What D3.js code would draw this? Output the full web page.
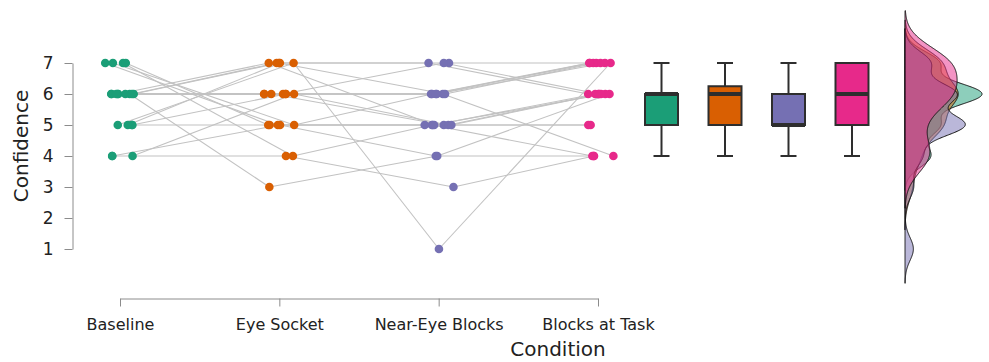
<!DOCTYPE html>
<html>
<head>
<meta charset="utf-8">
<script src="https://cdn.jsdelivr.net/npm/d3@7"></script>
<style>
  html, body { margin: 0; padding: 0; background: #fff; }
  svg { display: block; font-family: "DejaVu Sans", sans-serif; }
</style>
</head>
<body>
<svg id="chart" width="989" height="362"></svg>
<script>
// Conditions and confidence ratings (one entry per participant, same order in every condition)
const conditions = ["Baseline", "Eye Socket", "Near-Eye Blocks", "Blocks at Task"];
const baseline     = [5, 6, 4, 7, 4, 6, 5, 6, 7, 6, 5, 6, 4, 7, 6, 6, 6, 5, 6, 7];
const eyeSocket    = [7, 3, 4, 4, 5, 6, 5, 6, 5, 7, 6, 7, 6, 5, 6, 7, 6, 7, 6, 5];
const nearEye      = [1, 4, 3, 5, 4, 6, 5, 5, 5, 6, 6, 7, 5, 6, 7, 5, 6, 7, 6, 5];
const blocksAtTask = [7, 6, 4, 4, 4, 4, 5, 5, 6, 7, 7, 7, 6, 7, 6, 6, 7, 6, 7, 6];
const yTicks = [1, 2, 3, 4, 5, 6, 7];
const colors = ["#1B9E77", "#D95F02", "#7570B3", "#E7298A"];

const series = [baseline, eyeSocket, nearEye, blocksAtTask];
const nSubj = baseline.length;

const svg = d3.select("#chart");

// Scales
const y = d3.scaleLinear().domain([1, 7]).range([249, 63]);
const x = d3.scalePoint().domain(conditions).range([120, 598]);
const xBox = d3.scalePoint().domain(conditions).range([661.5, 852]);

// Horizontal jitter of the raw points (seeded so the layout is stable)
const jit = d3.randomUniform.source(d3.randomLcg(0.4217))(-15.5, 15.5);
const jitter = series.map(() => d3.range(nSubj).map(() => jit()));
const px = (c, i) => x(conditions[c]) + jitter[c][i];

// Y axis
const yAxis = svg.append("g")
  .attr("transform", "translate(72.5,0)")
  .call(d3.axisLeft(y).tickValues(yTicks).tickFormat(d3.format("d")).tickSize(8).tickSizeOuter(0).tickPadding(11));
yAxis.select(".domain").attr("stroke", "#8c8c8c");
yAxis.selectAll(".tick line").attr("stroke", "#8c8c8c");
yAxis.selectAll(".tick text").attr("font-size", 17).attr("fill", "#222").attr("font-family", "DejaVu Sans, sans-serif");

svg.append("text")
  .attr("transform", "translate(28,146) rotate(-90)")
  .attr("text-anchor", "middle")
  .attr("font-size", 20)
  .attr("fill", "#222")
  .text("Confidence");

// X axis
const xAxis = svg.append("g")
  .attr("transform", "translate(0,298.5)")
  .call(d3.axisBottom(x).tickSize(8).tickSizeOuter(0).tickPadding(12));
xAxis.select(".domain").attr("stroke", "#8c8c8c");
xAxis.selectAll(".tick line").attr("stroke", "#8c8c8c");
xAxis.selectAll(".tick text").attr("font-size", 16).attr("fill", "#222").attr("font-family", "DejaVu Sans, sans-serif");

svg.append("text")
  .attr("x", 558)
  .attr("y", 356)
  .attr("text-anchor", "middle")
  .attr("font-size", 20)
  .attr("fill", "#222")
  .text("Condition");

// Paired lines linking each participant across conditions
const lineG = svg.append("g");
for (let i = 0; i < nSubj; i++) {
  for (let c = 0; c < conditions.length - 1; c++) {
    lineG.append("line")
      .attr("x1", px(c, i)).attr("y1", y(series[c][i]))
      .attr("x2", px(c + 1, i)).attr("y2", y(series[c + 1][i]))
      .attr("stroke", "#c2c2c2")
      .attr("stroke-width", 1.1);
  }
}

// Raw points
const ptG = svg.append("g");
series.forEach((vals, c) => {
  ptG.selectAll(null)
    .data(vals)
    .join("circle")
    .attr("cx", (d, i) => px(c, i))
    .attr("cy", d => y(d))
    .attr("r", 4.3)
    .attr("fill", colors[c]);
});

// Box plots (Tukey whiskers, quantile type 7)
const boxW = 33, capW = 16;
const boxG = svg.append("g");
series.forEach((vals, c) => {
  const s = vals.slice().sort(d3.ascending);
  const q1 = d3.quantileSorted(s, 0.25);
  const med = d3.quantileSorted(s, 0.5);
  const q3 = d3.quantileSorted(s, 0.75);
  const iqr = q3 - q1;
  const lo = d3.min(s.filter(v => v >= q1 - 1.5 * iqr));
  const hi = d3.max(s.filter(v => v <= q3 + 1.5 * iqr));
  const cx = xBox(conditions[c]);
  const g = boxG.append("g").attr("stroke", "#2e2e2e");
  g.append("line").attr("x1", cx).attr("x2", cx).attr("y1", y(hi)).attr("y2", y(q3)).attr("stroke-width", 2);
  g.append("line").attr("x1", cx).attr("x2", cx).attr("y1", y(q1)).attr("y2", y(lo)).attr("stroke-width", 2);
  g.append("line").attr("x1", cx - capW / 2).attr("x2", cx + capW / 2).attr("y1", y(hi)).attr("y2", y(hi)).attr("stroke-width", 2);
  g.append("line").attr("x1", cx - capW / 2).attr("x2", cx + capW / 2).attr("y1", y(lo)).attr("y2", y(lo)).attr("stroke-width", 2);
  g.append("rect")
    .attr("x", cx - boxW / 2).attr("width", boxW)
    .attr("y", y(q3)).attr("height", y(q1) - y(q3))
    .attr("fill", colors[c]).attr("stroke-width", 2);
  g.append("line").attr("x1", cx - boxW / 2).attr("x2", cx + boxW / 2).attr("y1", y(med)).attr("y2", y(med)).attr("stroke-width", 4);
});

// Kernel density estimates (Gaussian kernel, Silverman's rule of thumb bandwidth)
function bwNrd0(v) {
  const s = v.slice().sort(d3.ascending);
  const sd = d3.deviation(s);
  const iqr = d3.quantileSorted(s, 0.75) - d3.quantileSorted(s, 0.25);
  const lo = Math.min(sd, iqr / 1.34);
  return 0.9 * lo * Math.pow(s.length, -0.2);
}
const dens = series.map(vals => {
  const bw = bwNrd0(vals);
  const a = d3.min(vals) - 3 * bw, b = d3.max(vals) + 3 * bw;
  const n = 512;
  const k = 1 / (Math.sqrt(2 * Math.PI) * bw * vals.length);
  return d3.range(n).map(j => {
    const t = a + (b - a) * j / (n - 1);
    const f = k * d3.sum(vals, v => Math.exp(-0.5 * ((t - v) / bw) ** 2));
    return [t, f];
  });
});
const maxDens = d3.max(dens, d => d3.max(d, p => p[1]));
const xd = d3.scaleLinear().domain([0, maxDens]).range([905, 982]);

const area = d3.area()
  .y(p => y(p[0]))
  .x0(xd(0))
  .x1(p => xd(p[1]));

const densG = svg.append("g");
dens.forEach((d, c) => {
  densG.append("path")
    .datum(d)
    .attr("d", area)
    .attr("fill", colors[c])
    .attr("fill-opacity", 0.5)
    .attr("stroke", "#111")
    .attr("stroke-width", 1);
});
</script>
</body>
</html>
